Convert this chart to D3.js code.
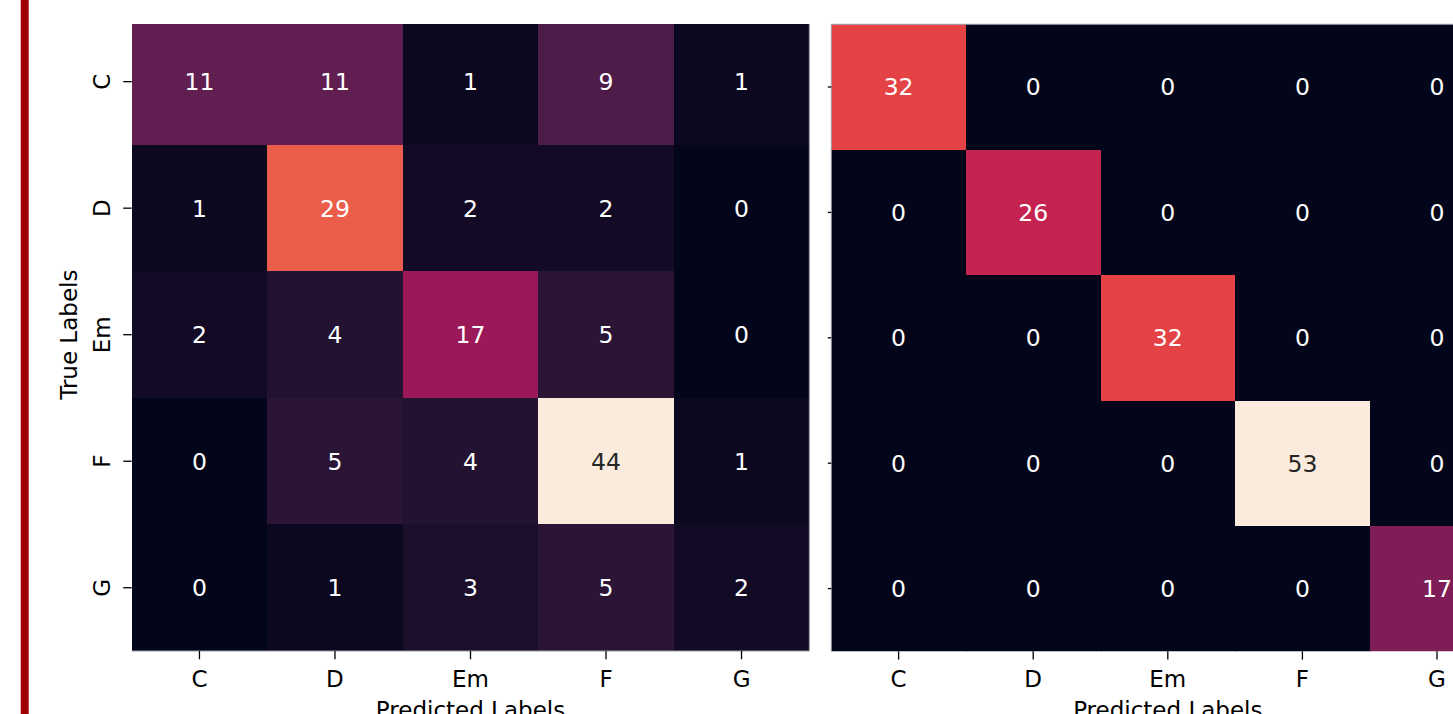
<!DOCTYPE html>
<html>
<head>
<meta charset="utf-8">
<script src="https://cdn.jsdelivr.net/npm/d3@7"></script>
<style>
  html, body { margin: 0; padding: 0; background: #ffffff; }
  svg { display: block; font-family: "DejaVu Sans", sans-serif; }
</style>
</head>
<body>
<svg id="chart" width="1453" height="714"></svg>
<script>
// ---- data ----
const labels = ["C", "D", "Em", "F", "G"];
const leftMatrix = [
  [11, 11, 1, 9, 1],
  [1, 29, 2, 2, 0],
  [2, 4, 17, 5, 0],
  [0, 5, 4, 44, 1],
  [0, 1, 3, 5, 2]
];
const rightMatrix = [
  [32, 0, 0, 0, 0],
  [0, 26, 0, 0, 0],
  [0, 0, 32, 0, 0],
  [0, 0, 0, 53, 0],
  [0, 0, 0, 0, 17]
];
const rocketStops = ["#03051a", "#35193e", "#701f57", "#ad1759", "#e13342", "#f37651", "#f6b48f", "#faebdd"];
const xTitle = "Predicted Labels";
const yTitle = "True Labels";

// ---- drawing ----
const svg = d3.select("#chart");
const rocket = d3.piecewise(d3.interpolateRgb, rocketStops);

function luminance(col) {
  const c = d3.rgb(col);
  const f = v => { v = v / 255; return v <= 0.03928 ? v / 12.92 : Math.pow((v + 0.055) / 1.055, 2.4); };
  return 0.2126 * f(c.r) + 0.7152 * f(c.g) + 0.0722 * f(c.b);
}

// red bar at the left
svg.append("rect").attr("x", 20.7).attr("y", 0).attr("width", 8).attr("height", 714).attr("fill", "#a20000");

const defs = svg.append("defs");

function heatmap(matrix, opts) {
  const x = d3.scaleBand().domain(labels).range([opts.x0, opts.x1]).padding(0);
  const y = d3.scaleBand().domain(labels).range([opts.y0, opts.y1]).padding(0);
  const vmax = d3.max(matrix.flat());
  const color = d3.scaleSequential(rocket).domain([0, vmax]);

  const cells = [];
  matrix.forEach((row, i) => row.forEach((v, j) => cells.push({ t: labels[i], p: labels[j], v })));

  defs.append("clipPath").attr("id", opts.id)
    .append("rect").attr("x", opts.x0).attr("y", opts.clipTop)
    .attr("width", opts.x1 - opts.x0).attr("height", opts.y1 - opts.clipTop);

  const g = svg.append("g").attr("clip-path", `url(#${opts.id})`);
  g.selectAll("rect.cell").data(cells).join("rect")
    .attr("class", "cell")
    .attr("x", d => x(d.p)).attr("y", d => y(d.t))
    .attr("width", x.bandwidth() + 1).attr("height", y.bandwidth() + 1)
    .attr("shape-rendering", "crispEdges")
    .attr("fill", d => color(d.v));
  g.selectAll("text.annot").data(cells).join("text")
    .attr("class", "annot")
    .attr("x", d => x(d.p) + x.bandwidth() / 2)
    .attr("y", d => y(d.t) + y.bandwidth() / 2)
    .attr("text-anchor", "middle").attr("dy", "0.36em")
    .attr("font-size", 23.5)
    .attr("fill", d => luminance(color(d.v)) > 0.408 ? "#262626" : "#ffffff")
    .text(d => d.v);

  // faint edge lines
  opts.edges.forEach(e => {
    const l = { left: [opts.x0, opts.clipTop, opts.x0, opts.y1], right: [opts.x1, opts.clipTop, opts.x1, opts.y1],
                top: [opts.x0, opts.clipTop, opts.x1, opts.clipTop], bottom: [opts.x0, opts.y1, opts.x1, opts.y1] }[e];
    svg.append("line").attr("x1", l[0]).attr("y1", l[1]).attr("x2", l[2]).attr("y2", l[3])
      .attr("stroke", "#9a9aa8").attr("stroke-width", 1);
  });

  // left axis
  const ya = svg.append("g").attr("transform", `translate(${opts.x0},0)`)
    .call(d3.axisLeft(y).tickSize(opts.yTick).tickFormat(opts.showY ? (d => d) : ""));
  ya.select(".domain").remove();
  ya.selectAll(".tick line").attr("stroke", "#000").attr("stroke-width", 1.3);
  ya.selectAll(".tick text")
    .attr("x", 0).attr("y", -21.7).attr("dy", 0)
    .attr("transform", "rotate(-90)")
    .attr("text-anchor", "middle")
    .attr("font-size", 23).attr("fill", "#000")
    .attr("font-family", "DejaVu Sans");

  // bottom axis
  const xa = svg.append("g").attr("transform", `translate(0,${opts.y1})`)
    .call(d3.axisBottom(x).tickSize(8.3));
  xa.select(".domain").remove();
  xa.selectAll(".tick line").attr("stroke", "#000").attr("stroke-width", 1.3);
  xa.selectAll(".tick text")
    .attr("y", 35.7).attr("dy", 0)
    .attr("font-size", 23).attr("fill", "#000")
    .attr("font-family", "DejaVu Sans");

  svg.append("text")
    .attr("x", (opts.x0 + opts.x1) / 2).attr("y", 717.5)
    .attr("text-anchor", "middle").attr("font-size", 23).attr("fill", "#000")
    .text(xTitle);

  if (opts.showY) {
    svg.append("text")
      .attr("transform", `translate(76.7,${(opts.y0 + opts.y1) / 2}) rotate(-90)`)
      .attr("text-anchor", "middle").attr("font-size", 23).attr("fill", "#000")
      .text(yTitle);
  }
}

heatmap(leftMatrix, { id: "clipL", x0: 131.7, x1: 809.3, y0: 18.4, y1: 651, clipTop: 24, yTick: 8.5, showY: true, edges: ["right", "bottom"] });
heatmap(rightMatrix, { id: "clipR", x0: 831.3, x1: 1504.3, y0: 24.3, y1: 651.3, clipTop: 24.3, yTick: 3.5, showY: false, edges: ["left", "top"] });
</script>
</body>
</html>
